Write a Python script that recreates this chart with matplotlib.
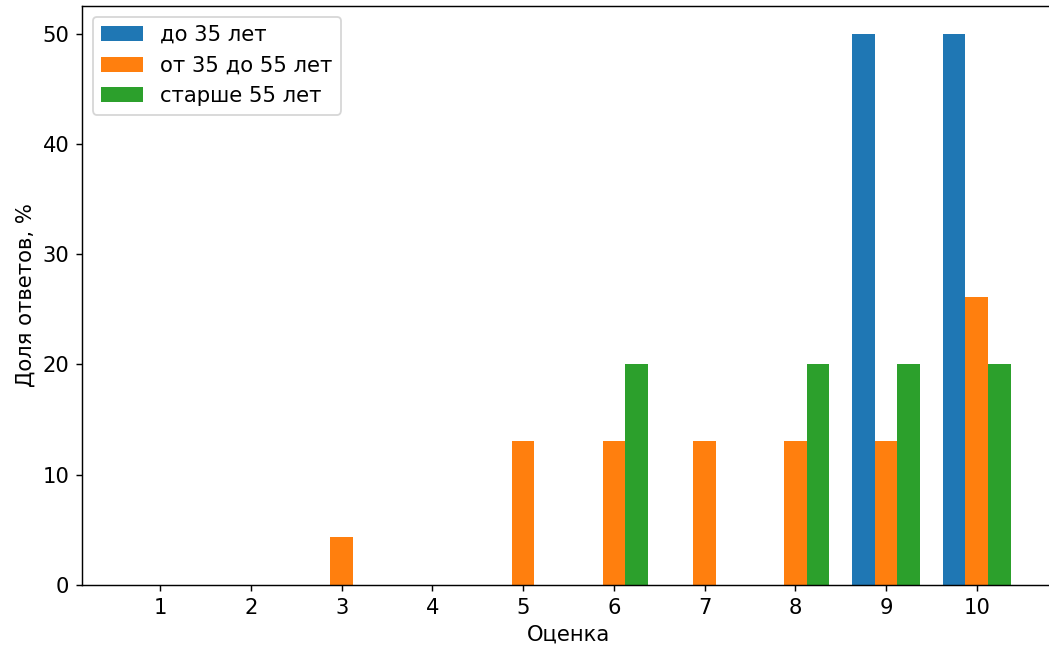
import numpy as np
import matplotlib.pyplot as plt

# Scores and share of answers (%) per age group
scores = np.arange(1, 11)
under_35 = [0, 0, 0, 0, 0, 0, 0, 0, 50, 50]
from_35_to_55 = [0, 0, 4.35, 0, 13.04, 13.04, 13.04, 13.04, 13.04, 26.09]
over_55 = [0, 0, 0, 0, 0, 20, 0, 20, 20, 20]
labels = ['до 35 лет', 'от 35 до 55 лет', 'старше 55 лет']

width = 0.25
plt.rcParams['font.size'] = 11.7

fig = plt.figure(figsize=(1049 / 130, 654 / 130), dpi=130)
# axes run slightly past the right edge, as in the cropped original
ax = fig.add_axes([0.0782, 0.1055, 0.9275, 0.8853])

ax.bar(scores - width, under_35, width, label=labels[0])
ax.bar(scores, from_35_to_55, width, label=labels[1])
ax.bar(scores + width, over_55, width, label=labels[2])

ax.spines['right'].set_visible(False)
ax.set_xticks(scores)
ax.set_xlabel('Оценка')
ax.set_ylabel('Доля ответов, %')
ax.legend(loc='upper left')

plt.savefig('out.png', dpi=130)
